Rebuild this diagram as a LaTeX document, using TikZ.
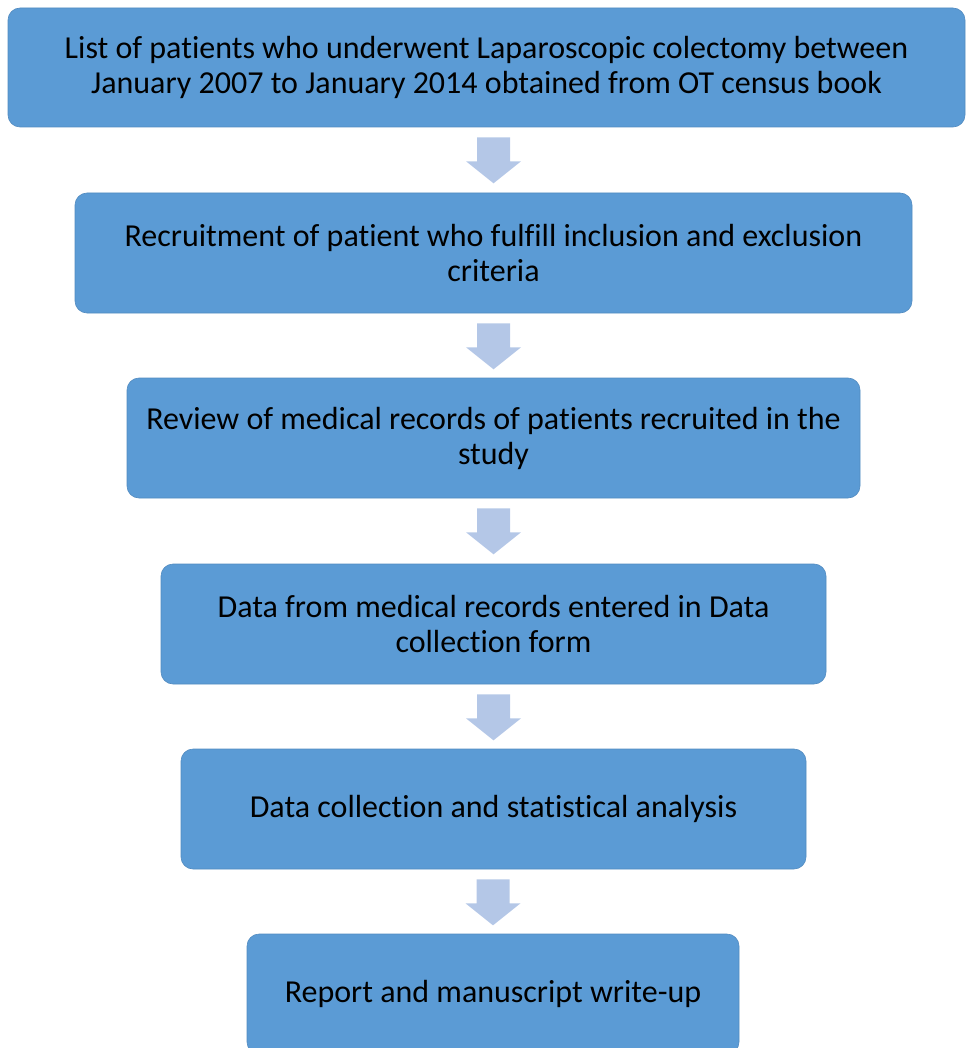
\documentclass[tikz,border=0pt]{standalone}
\usepackage{fontspec}
\setmainfont{Carlito}[Ligatures={NoCommon}]
\definecolor{stepblue}{HTML}{5B9BD5}
\definecolor{arrowblue}{HTML}{B4C7E7}
\begin{document}
\begin{tikzpicture}[x=1pt,y=-1pt,
  stepbox/.style={fill=stepblue, draw=stepblue!90!black, line width=0.6pt, rounded corners=12pt,
    align=center, font=\fontsize{32}{35}\selectfont, text=black, inner sep=0pt},
  flowarrow/.style={fill=arrowblue, draw=none}]
\useasboundingbox (0,0) rectangle (967,1048);
\clip (0,0) rectangle (967,1048);

% step boxes: corner to corner
\newcommand{\stepnode}[6]{%
  \node[stepbox, minimum width=#4-#2, minimum height=#5-#3] (#1) at ({(#2+#4)/2},{(#3+#5)/2}) {#6};}
\stepnode{s1}{8}{8}{965}{127}{List of patients who underwent Laparoscopic colectomy between\\January 2007 to January 2014 obtained from OT census book}
\stepnode{s2}{75}{193}{912}{313}{Recruitment of patient who fulfill inclusion and exclusion\\criteria}
\stepnode{s3}{127}{378}{860}{498}{Review of medical records of patients recruited in the\\study}
\stepnode{s4}{161}{564}{826}{684}{Data from medical records entered in Data\\collection form}
\stepnode{s5}{181}{749}{806}{869}{Data collection and statistical analysis}
\stepnode{s6}{247}{934}{739}{1054}{Report and manuscript write-up}

% block arrows between consecutive steps, centred on the lower box
\foreach \a/\b in {s1/s2,s2/s3,s3/s4,s4/s5,s5/s6}{
  \path (\a.south -| \b.north) ++(0,10) coordinate (top);
  \path (top) ++(0,46) coordinate (tip);
  \fill[flowarrow] ([xshift=-16.5pt]top) -- ([xshift=16.5pt]top)
    -- ([xshift=16.5pt,yshift=22pt]tip) -- ([xshift=27.5pt,yshift=22pt]tip)
    -- (tip) -- ([xshift=-27.5pt,yshift=22pt]tip) -- ([xshift=-16.5pt,yshift=22pt]tip) -- cycle;
}
\end{tikzpicture}
\end{document}
